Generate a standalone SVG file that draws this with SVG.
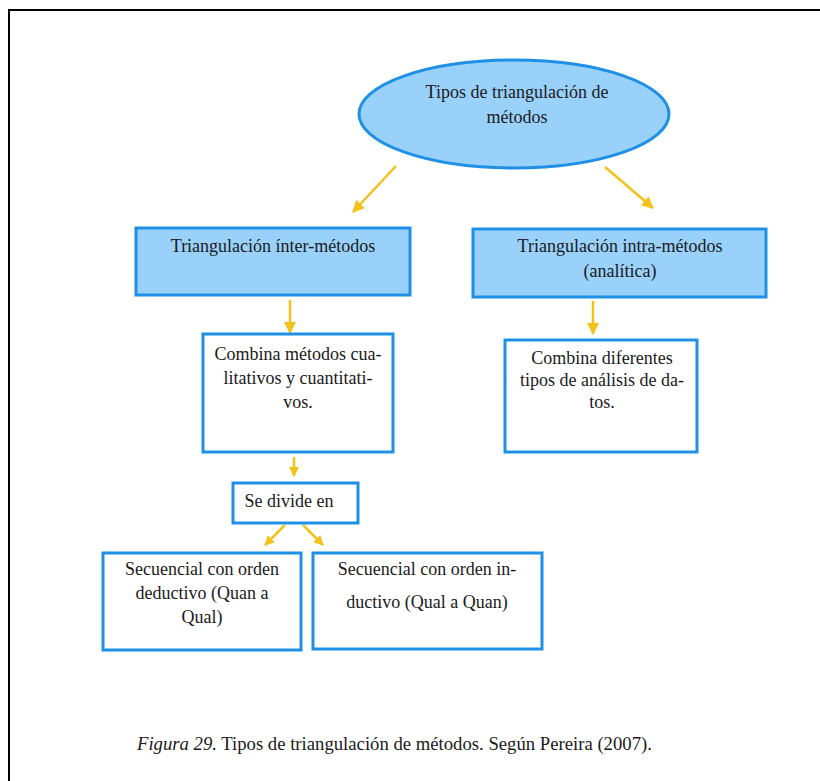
<svg xmlns="http://www.w3.org/2000/svg" width="820" height="781" viewBox="0 0 820 781">
<defs>
<style>
text{font-size:18px;fill:#1a1a1a;text-anchor:middle}
.hdr{fill:#99D1FB;stroke:#1E90E6;stroke-width:3}
.box{fill:#fff;stroke:#1E90E6;stroke-width:3}
.arr{stroke:#F2C21A;stroke-width:2.5;fill:none}
</style>
<marker id="ah" markerUnits="userSpaceOnUse" markerWidth="12" markerHeight="12" viewBox="0 0 12 12" refX="11" refY="6" orient="auto">
<path d="M0,0 L12,6 L0,12 Z" fill="#F2C21A"/>
</marker>
<marker id="ahs" markerUnits="userSpaceOnUse" markerWidth="10" markerHeight="10" viewBox="0 0 10 10" refX="9" refY="5" orient="auto">
<path d="M0,0 L10,5 L0,10 Z" fill="#F2C21A"/>
</marker>
</defs>
<rect width="820" height="781" fill="#fff"/>
<rect x="9" y="10" width="830" height="800" fill="none" stroke="#000" stroke-width="2"/>

<g id="connectors">
<line class="arr" x1="396" y1="166" x2="353" y2="212" marker-end="url(#ah)"/>
<line class="arr" x1="605" y1="167" x2="653" y2="208" marker-end="url(#ah)"/>
<line class="arr" x1="290" y1="300" x2="290" y2="333" marker-end="url(#ah)"/>
<line class="arr" x1="593" y1="301" x2="593" y2="334" marker-end="url(#ah)"/>
<line class="arr" x1="294" y1="457" x2="294" y2="476" marker-end="url(#ahs)"/>
<line class="arr" x1="285" y1="525" x2="265" y2="545" marker-end="url(#ahs)"/>
<line class="arr" x1="303" y1="525" x2="323" y2="545" marker-end="url(#ahs)"/>
</g>

<g font-family="Liberation Serif, DejaVu Serif, serif">
<g id="n-root">
<ellipse class="hdr" cx="514" cy="114" rx="155" ry="54"/>
<text x="517" y="98">Tipos de triangulación de</text>
<text x="517" y="123">métodos</text>
</g>

<g id="n-inter">
<rect class="hdr" x="136" y="228" width="274" height="67"/>
<text x="273" y="252">Triangulación ínter-métodos</text>
</g>

<g id="n-intra">
<rect class="hdr" x="473" y="229" width="293" height="68"/>
<text x="620" y="252">Triangulación intra-métodos</text>
<text x="620" y="277">(analítica)</text>
</g>

<g id="n-combina1">
<rect class="box" x="203" y="334" width="190" height="118"/>
<text x="298" y="360">Combina métodos cua-</text>
<text x="298" y="384">litativos y cuantitati-</text>
<text x="298" y="408">vos.</text>
</g>

<g id="n-combina2">
<rect class="box" x="505" y="340" width="192" height="112"/>
<text x="602" y="364">Combina diferentes</text>
<text x="602" y="386">tipos de análisis de da-</text>
<text x="602" y="408">tos.</text>
</g>

<g id="n-divide">
<rect class="box" x="233" y="483" width="125" height="40"/>
<text x="289" y="507">Se divide en</text>
</g>

<g id="n-deductivo">
<rect class="box" x="103" y="553" width="198" height="97"/>
<text x="202" y="575">Secuencial con orden</text>
<text x="202" y="599">deductivo (Quan a</text>
<text x="202" y="623">Qual)</text>
</g>

<g id="n-inductivo">
<rect class="box" x="313" y="553" width="229" height="96"/>
<text x="427" y="575">Secuencial con orden in-</text>
<text x="427" y="608">ductivo (Qual a Quan)</text>
</g>

<text x="137" y="750" style="text-anchor:start;font-size:18.7px"><tspan font-style="italic">Figura 29.</tspan> Tipos de triangulación de métodos. Según Pereira (2007).</text>
</g>
</svg>
